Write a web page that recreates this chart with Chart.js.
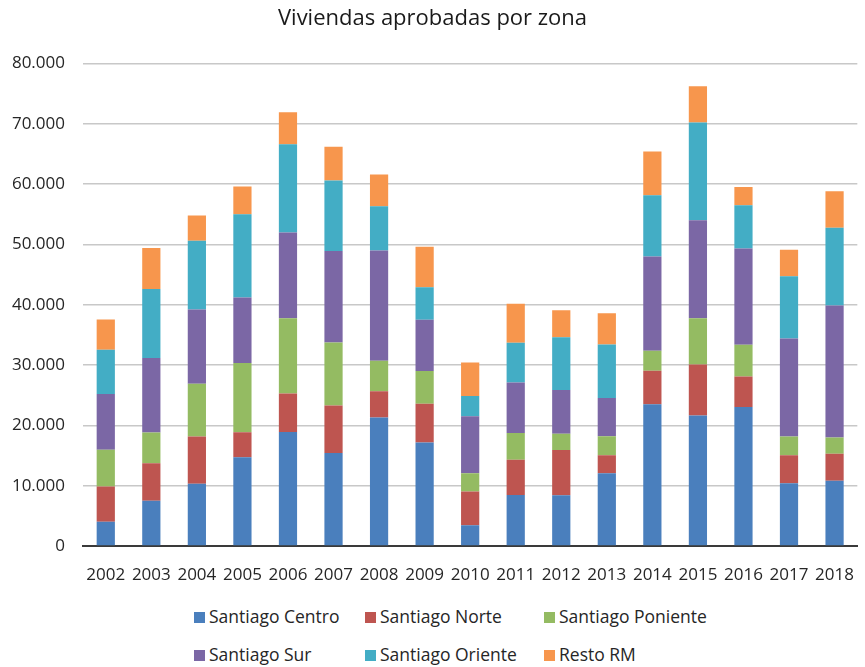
<!DOCTYPE html>
<html>
<head>
<meta charset="utf-8">
<script src="https://cdn.jsdelivr.net/npm/chart.js@4"></script>
<style>
    body { margin: 0; background: #fff; font-family: "Open Sans", "Noto Sans", sans-serif; }
    #wrap { position: relative; width: 865px; height: 590px; }
    #legend { position: relative; width: 865px; height: 77px; }
    .item { position: absolute; font-size: 17.5px; color: #262626; line-height: 22px; }
    .box { display: inline-block; width: 11px; height: 11px; margin-right: 4px; vertical-align: 0px; }
</style>
</head>
<body>
<div id="wrap"><canvas id="chart"></canvas></div>
<div id="legend"></div>
<script>
const years = ['2002','2003','2004','2005','2006','2007','2008','2009','2010','2011','2012','2013','2014','2015','2016','2017','2018'];

// values in viviendas
const centro   = [4000, 7500, 10300, 14700, 18900, 15400, 21300, 17150, 3450, 8450, 8400, 12050, 23500, 21650, 23050, 10400, 10800];
const norte    = [5850, 6200, 7850, 4150, 6400, 7900, 4350, 6450, 5600, 5850, 7500, 3000, 5550, 8450, 5050, 4650, 4500];
const poniente = [6100, 5100, 8750, 11500, 12450, 10450, 5050, 5400, 3000, 4450, 2700, 3150, 3300, 7650, 5250, 3100, 2700];
const sur      = [9250, 12350, 12300, 10850, 14200, 15150, 18300, 8500, 9450, 8350, 7250, 6350, 15650, 16250, 15950, 16250, 21850];
const oriente  = [7350, 11450, 11400, 13800, 14650, 11700, 7300, 5400, 3350, 6600, 8750, 8850, 10150, 16200, 7200, 10300, 12900];
const resto    = [5000, 6800, 4200, 4600, 5300, 5600, 5300, 6700, 5550, 6450, 4500, 5200, 7250, 6000, 3000, 4400, 6050];

const series = [
    { label: 'Santiago Centro', data: centro, color: '#4a7fbd' },
    { label: 'Santiago Norte', data: norte, color: '#be5550' },
    { label: 'Santiago Poniente', data: poniente, color: '#94bb62' },
    { label: 'Santiago Sur', data: sur, color: '#7b67a5' },
    { label: 'Santiago Oriente', data: oriente, color: '#43adc5' },
    { label: 'Resto RM', data: resto, color: '#f7964d' }
];

const canvas = document.getElementById('chart');
canvas.width = 865;
canvas.height = 590;

Chart.defaults.font.family = '"Open Sans", "Noto Sans", sans-serif';
Chart.defaults.color = '#262626';

new Chart(canvas.getContext('2d'), {
    type: 'bar',
    data: {
        labels: years,
        datasets: series.map(s => ({
            label: s.label,
            data: s.data,
            backgroundColor: s.color,
            borderWidth: 0,
            barPercentage: 0.4,
            categoryPercentage: 1.0
        }))
    },
    options: {
        responsive: false,
        animation: false,
        layout: { padding: { left: 0, right: 0, top: 0, bottom: 0 } },
        plugins: {
            legend: { display: false },
            tooltip: { enabled: false },
            title: {
                display: true,
                text: 'Viviendas aprobadas por zona',
                font: { size: 22, weight: 'normal' },
                color: '#1a1a1a',
                padding: { top: 6, bottom: 31 }
            }
        },
        scales: {
            x: {
                stacked: true,
                grid: { display: false },
                border: { color: '#3a3a3a', width: 2 },
                ticks: { font: { size: 17 }, padding: 11, maxRotation: 0 },
                afterFit: scale => { scale.height = 44; }
            },
            y: {
                stacked: true,
                min: 0,
                max: 80000,
                grid: { color: '#c8c8c8', lineWidth: 1.5, drawTicks: false },
                border: { display: false },
                ticks: {
                    stepSize: 10000,
                    font: { size: 17 },
                    padding: 18,
                    callback: v => v.toString().replace(/\B(?=(\d{3})+(?!\d))/g, '.')
                },
                afterFit: scale => { scale.width = 83; }
            }
        }
    }
});

// legend laid out in 3 columns like the original
const legend = document.getElementById('legend');
const cols = [194, 365, 544];
series.forEach((s, i) => {
    const el = document.createElement('div');
    el.className = 'item';
    el.style.left = cols[i % 3] + 'px';
    el.style.top = (i < 3 ? 15 : 53) + 'px';
    el.innerHTML = '<span class="box" style="background:' + s.color + '"></span>' + s.label;
    legend.appendChild(el);
});
</script>
</body>
</html>
